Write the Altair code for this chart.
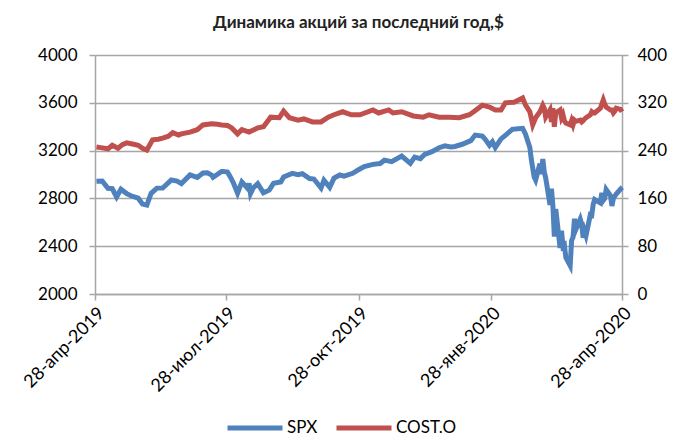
import altair as alt
import pandas as pd

TITLE = "Динамика акций за последний год,$"

spx_dates = [
    "2019-04-29", "2019-05-03", "2019-05-07", "2019-05-10", "2019-05-13", "2019-05-16",
    "2019-05-20", "2019-05-23", "2019-05-28", "2019-05-31", "2019-06-03", "2019-06-06",
    "2019-06-10", "2019-06-14", "2019-06-20", "2019-06-24", "2019-06-27", "2019-07-03",
    "2019-07-08", "2019-07-12", "2019-07-15", "2019-07-18", "2019-07-19", "2019-07-25",
    "2019-07-26", "2019-07-29", "2019-07-31", "2019-08-02", "2019-08-05", "2019-08-08",
    "2019-08-12", "2019-08-13", "2019-08-14", "2019-08-16", "2019-08-19", "2019-08-23",
    "2019-08-27", "2019-08-30", "2019-09-04", "2019-09-06", "2019-09-12", "2019-09-16",
    "2019-09-19", "2019-09-24", "2019-09-27", "2019-10-02", "2019-10-04", "2019-10-08",
    "2019-10-11", "2019-10-15", "2019-10-18", "2019-10-24", "2019-10-28", "2019-11-01",
    "2019-11-07", "2019-11-12", "2019-11-15", "2019-11-20", "2019-11-27", "2019-12-03",
    "2019-12-06", "2019-12-10", "2019-12-13", "2019-12-18", "2019-12-23", "2019-12-27",
    "2019-12-31", "2020-01-03", "2020-01-08", "2020-01-14", "2020-01-17", "2020-01-22",
    "2020-01-24", "2020-01-27", "2020-01-29", "2020-01-31", "2020-02-04", "2020-02-07",
    "2020-02-12", "2020-02-14", "2020-02-19", "2020-02-21", "2020-02-24", "2020-02-25",
    "2020-02-27", "2020-02-28", "2020-03-02", "2020-03-03", "2020-03-04", "2020-03-05",
    "2020-03-06", "2020-03-09", "2020-03-10", "2020-03-11", "2020-03-12", "2020-03-13",
    "2020-03-16", "2020-03-17", "2020-03-18", "2020-03-19", "2020-03-20", "2020-03-23",
    "2020-03-24", "2020-03-25", "2020-03-26", "2020-03-27", "2020-03-30", "2020-03-31",
    "2020-04-01", "2020-04-02", "2020-04-03", "2020-04-06", "2020-04-07", "2020-04-08",
    "2020-04-09", "2020-04-13", "2020-04-14", "2020-04-15", "2020-04-16", "2020-04-17",
    "2020-04-20", "2020-04-21", "2020-04-22", "2020-04-24", "2020-04-27", "2020-04-28",
]
spx_values = [
    2943, 2945, 2884, 2881, 2812, 2876,
    2840, 2822, 2802, 2752, 2744, 2843,
    2886, 2887, 2954, 2945, 2924, 2996,
    2976, 3013, 3014, 2995, 2977, 3025,
    3026, 3020, 2980, 2932, 2844, 2938,
    2883, 2926, 2840, 2889, 2923, 2847,
    2869, 2926, 2937, 2979, 3009, 2998,
    3006, 2966, 2962, 2887, 2952, 2893,
    2970, 2996, 2986, 3010, 3040, 3067,
    3085, 3092, 3120, 3108, 3154, 3093,
    3146, 3133, 3169, 3191, 3224, 3240,
    3231, 3235, 3253, 3283, 3330, 3321,
    3295, 3244, 3273, 3226, 3298, 3328,
    3379, 3380, 3386, 3338, 3226, 3128,
    2979, 2954, 3090, 3003, 3130, 3023,
    2972, 2746, 2882, 2741, 2480, 2711,
    2386, 2529, 2398, 2409, 2305, 2237,
    2447, 2476, 2630, 2541, 2627, 2585,
    2471, 2527, 2489, 2664, 2659, 2750,
    2790, 2762, 2846, 2784, 2800, 2875,
    2823, 2737, 2799, 2837, 2878, 2863,
]

cost_dates = [
    "2019-04-29", "2019-05-02", "2019-05-07", "2019-05-10", "2019-05-14", "2019-05-17",
    "2019-05-20", "2019-05-24", "2019-05-28", "2019-05-31", "2019-06-03", "2019-06-07",
    "2019-06-11", "2019-06-14", "2019-06-18", "2019-06-21", "2019-06-25", "2019-06-27",
    "2019-07-03", "2019-07-08", "2019-07-12", "2019-07-18", "2019-07-22", "2019-07-25",
    "2019-07-29", "2019-08-01", "2019-08-05", "2019-08-08", "2019-08-13", "2019-08-19",
    "2019-08-23", "2019-08-28", "2019-09-03", "2019-09-06", "2019-09-10", "2019-09-16",
    "2019-09-20", "2019-09-26", "2019-10-02", "2019-10-07", "2019-10-11", "2019-10-17",
    "2019-10-23", "2019-10-29", "2019-11-07", "2019-11-11", "2019-11-18", "2019-11-21",
    "2019-11-27", "2019-12-05", "2019-12-12", "2019-12-16", "2019-12-23", "2019-12-30",
    "2020-01-06", "2020-01-13", "2020-01-16", "2020-01-22", "2020-01-27", "2020-01-31",
    "2020-02-04", "2020-02-07", "2020-02-13", "2020-02-19", "2020-02-21", "2020-02-24",
    "2020-02-26", "2020-02-28", "2020-03-02", "2020-03-04", "2020-03-05", "2020-03-06",
    "2020-03-09", "2020-03-10", "2020-03-11", "2020-03-12", "2020-03-13", "2020-03-16",
    "2020-03-17", "2020-03-18", "2020-03-19", "2020-03-20", "2020-03-23", "2020-03-24",
    "2020-03-25", "2020-03-26", "2020-03-27", "2020-03-30", "2020-03-31", "2020-04-01",
    "2020-04-02", "2020-04-03", "2020-04-06", "2020-04-07", "2020-04-08", "2020-04-09",
    "2020-04-13", "2020-04-14", "2020-04-15", "2020-04-16", "2020-04-17", "2020-04-20",
    "2020-04-21", "2020-04-22", "2020-04-23", "2020-04-24", "2020-04-27", "2020-04-28",
]
cost_values = [
    246, 245, 243, 249, 244, 250,
    253, 251, 249, 244, 241, 258,
    259, 261, 264, 270, 266, 268,
    271, 275, 283, 285, 284, 283,
    282, 278, 268, 275, 271, 278,
    280, 296, 295, 306, 295, 291,
    293, 288, 288, 296, 300, 305,
    300, 300, 308, 303, 308, 303,
    305, 298, 296, 300, 296, 296,
    295, 300, 305, 316, 313, 308,
    308, 320, 321, 328, 316, 305,
    283, 295, 305, 316, 311, 296,
    308, 288, 311, 280, 303, 308,
    295, 300, 290, 286, 283, 290,
    283, 291, 289, 291, 288, 290,
    293, 295, 300, 305, 303, 303,
    311, 318, 325, 318, 313, 308,
    308, 303, 306, 311, 309, 305,
]

series_names = ["SPX", "COST.O"]
series_colors = ["#4F81BD", "#C0504D"]

df = pd.concat([
    pd.DataFrame({"date": [d + "T00:00:00" for d in spx_dates], "value": spx_values, "series": "SPX"}),
    pd.DataFrame({"date": [d + "T00:00:00" for d in cost_dates], "value": cost_values, "series": "COST.O"}),
])

FONT = "Lato"
GRID = "#A6A6A6"

tick_dates = [
    alt.DateTime(year=2019, month=4, date=28),
    alt.DateTime(year=2019, month=7, date=28),
    alt.DateTime(year=2019, month=10, date=28),
    alt.DateTime(year=2020, month=1, date=28),
    alt.DateTime(year=2020, month=4, date=28),
]

label_expr = ("date(datum.value) + '-' + ['янв','фев','мар','апр','май','июн','июл','авг','сен','окт','ноя','дек']"
              "[month(datum.value)] + '-' + year(datum.value)")

x_enc = alt.X(
    "date:T",
    scale=alt.Scale(domain=[tick_dates[0], tick_dates[-1]]),
    axis=alt.Axis(values=tick_dates, labelExpr=label_expr, labelAngle=-45, title=None,
                  grid=False, tickSize=6, labelPadding=4, labelFontSize=18,
                  domainColor=GRID, tickColor=GRID, domainWidth=1.5, tickWidth=1.5),
)

color_enc = alt.Color(
    "series:N",
    scale=alt.Scale(domain=series_names, range=series_colors),
    legend=alt.Legend(title=None, orient="none", direction="horizontal", legendX=130, legendY=343,
                      symbolType="stroke", symbolSize=3025, symbolStrokeWidth=5,
                      labelFontSize=17, columnPadding=8, labelOffset=2),
)

base = alt.Chart(df)

spx = base.transform_filter(alt.datum.series == "SPX").mark_line(strokeWidth=5).encode(
    x=x_enc,
    y=alt.Y("value:Q", scale=alt.Scale(domain=[2000, 4000]),
            axis=alt.Axis(values=[2000, 2400, 2800, 3200, 3600, 4000], format="d", title=None,
                          orient="left", grid=True, gridColor=GRID, gridWidth=1.5, tickSize=6,
                          labelPadding=12, labelFontSize=17, domainColor=GRID, tickColor=GRID,
                          domainWidth=1.5, tickWidth=1.5)),
    color=color_enc,
)

cost = base.transform_filter(alt.datum.series == "COST.O").mark_line(strokeWidth=5).encode(
    x=x_enc,
    y=alt.Y("value:Q", scale=alt.Scale(domain=[0, 400]),
            axis=alt.Axis(values=[0, 80, 160, 240, 320, 400], format="d", title=None, orient="right",
                          grid=False, tickSize=6, labelPadding=9, labelFontSize=17,
                          domainColor=GRID, tickColor=GRID, domainWidth=1.5, tickWidth=1.5)),
    color=color_enc,
)

chart = alt.layer(spx, cost).resolve_scale(y="independent").properties(
    width=527,
    height=239,
    title=alt.TitleParams(TITLE, fontSize=17, fontWeight="bold", font=FONT, offset=14,
                          anchor="middle", color="#222222"),
    padding={"left": 87, "top": 47, "right": 47, "bottom": 144},
    autosize=alt.AutoSizeParams(type="none"),
).configure(font=FONT).configure_axis(
    labelFont=FONT, labelColor="#000000"
).configure_legend(labelFont=FONT, labelColor="#000000").configure_view(stroke=None)

chart.save("out.html", embed_options={"renderer": "svg", "actions": False})
